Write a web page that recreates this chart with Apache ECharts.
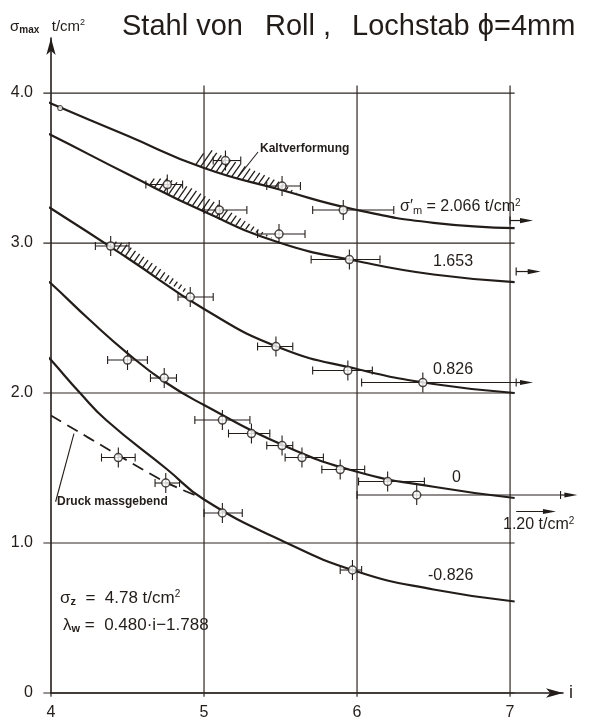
<!DOCTYPE html>
<html><head><meta charset="utf-8">
<script src="https://cdn.jsdelivr.net/npm/echarts@6/dist/echarts.min.js"></script>
<style>html,body{margin:0;padding:0;background:#fff}#c{width:589px;height:722px}</style>
</head><body><div id="c"></div>
<script>
// ---------- data ----------
const xTicks = [4, 5, 6, 7];
const yTicks = [0, 1, 2, 3, 4];
const curveNames = ['2.066', '1.653', '0.826', '0', '-0.826'];
const curve2066 = [[3.96,3.95],[4,3.93],[4.5,3.715],[5,3.50],[5.5,3.355],[6,3.22],[6.5,3.135],[7.03,3.10]];
const curve1653 = [[3.97,3.73],[4,3.72],[4.5,3.46],[5,3.21],[5.5,3.00],[6,2.88],[6.5,2.79],[7.03,2.74]];
const curve0826 = [[3.96,3.25],[4,3.23],[4.5,2.90],[5,2.56],[5.5,2.30],[6,2.16],[6.5,2.06],[7.03,2.00]];
const curve0    = [[3.97,2.75],[4,2.73],[4.25,2.49],[4.5,2.265],[4.75,2.07],[5,1.92],[5.5,1.66],[6,1.475],[6.5,1.375],[7.03,1.30]];
const curveM0826= [[3.97,2.25],[4,2.22],[4.19,2.0],[4.36,1.82],[4.76,1.49],[5,1.29],[5.5,1.02],[6,0.81],[6.5,0.69],[7.03,0.61]];
const druckLine = [[4.0,1.85],[4.44,1.585],[4.75,1.405],[4.94,1.32]];
// observations: [i, sigma, i_low, i_high]
const obs2066  = [[5.14,3.55,5.06,5.24],[5.51,3.38,5.41,5.63],[5.91,3.22,5.71,6.24]];
const obs1653  = [[4.76,3.39,4.62,4.86],[5.10,3.22,5.00,5.28],[5.49,3.06,5.35,5.66],[5.95,2.89,5.70,6.15]];
const obs0826  = [[4.39,2.98,4.29,4.51],[4.91,2.64,4.83,5.06],[5.47,2.31,5.35,5.58],[5.94,2.15,5.71,6.10],[6.43,2.07,6.03,7.04]];
const obs0     = [[4.50,2.22,4.37,4.63],[4.74,2.10,4.65,4.82],[5.12,1.82,4.94,5.30],[5.31,1.73,5.16,5.43],[5.51,1.65,5.41,5.58],[5.64,1.57,5.53,5.78],[5.89,1.49,5.77,6.05],[6.20,1.41,6.01,6.44],[6.39,1.32,6.00,7.33]];
const obsDruck = [[4.44,1.57,4.33,4.55],[4.75,1.40,4.68,4.84]];
const obsM0826 = [[5.12,1.20,5.00,5.25],[5.97,0.82,5.89,6.03]];
const startMarks = [[4.06,3.90],[3.98,3.73]];
// arrows to the right: [i_start, i_end, sigma, startTick(1/0)]
const arrowsRight = [[7.0,7.15,3.15,1],[7.04,7.20,2.81,1],[7.04,7.15,2.07,0],[7.33,7.44,1.32,0],[7.04,7.30,1.21,0]];
// hatched "Kaltverformung" zones (closed outlines)
const hatch2066 = [[4.93,3.53],[5.03,3.63],[5.14,3.57],[5.51,3.40],[5.61,3.33],[5.5,3.355],[5.25,3.42],[5.0,3.50]];
const hatch1653 = [[4.62,3.40],[4.66,3.43],[4.76,3.43],[4.93,3.36],[5.28,3.14],[5.45,3.03],[5.25,3.10],[5.0,3.21],[4.8,3.31]];
const hatch0826 = [[4.38,3.00],[4.40,3.015],[4.49,2.995],[4.87,2.71],[4.91,2.65],[4.7,2.77],[4.5,2.90]];
const leaderKalt  = [[5.353,3.607],[5.224,3.442]];
const leaderDruck = [[4.15,1.73],[4.03,1.275]];

// ---------- styling ----------
const INK = '#231d1a';
const GRIDC = '#2e2622';
const FONT = '"Liberation Sans", Arial, sans-serif';

const allObs = [].concat(obs2066, obs1653, obs0826, obs0, obsDruck, obsM0826);
const hatchPolys = [hatch2066, hatch1653, hatch0826];

function hatchLines(poly, spacing, angleDeg) {
  const th = angleDeg * Math.PI / 180;
  const d = [Math.cos(th), -Math.sin(th)];
  const n = [Math.sin(th), Math.cos(th)];
  let mn = Infinity, mx = -Infinity;
  poly.forEach(p => { const v = n[0]*p[0] + n[1]*p[1]; mn = Math.min(mn, v); mx = Math.max(mx, v); });
  const out = [];
  for (let c = Math.ceil(mn / spacing) * spacing; c <= mx; c += spacing) {
    const pts = [];
    for (let k = 0; k < poly.length; k++) {
      const a = poly[k], b = poly[(k + 1) % poly.length];
      const va = n[0]*a[0] + n[1]*a[1] - c, vb = n[0]*b[0] + n[1]*b[1] - c;
      if ((va < 0) !== (vb < 0)) {
        const t = va / (va - vb);
        pts.push([a[0] + t*(b[0]-a[0]), a[1] + t*(b[1]-a[1])]);
      }
    }
    pts.sort((p, q) => (d[0]*p[0] + d[1]*p[1]) - (d[0]*q[0] + d[1]*q[1]));
    for (let k = 0; k + 1 < pts.length; k += 2) out.push([pts[k], pts[k+1]]);
  }
  return out;
}

function curveSeries(data, extra) {
  return Object.assign({
    type: 'line', data: data, showSymbol: false, smooth: 0.5,
    clip: false, silent: true, z: 3,
    lineStyle: { color: INK, width: 2.2 }
  }, extra || {});
}

const chart = echarts.init(document.getElementById('c'), null, { renderer: 'canvas' });
chart.setOption({
  backgroundColor: '#ffffff',
  animation: false,
  textStyle: { fontFamily: FONT, color: INK },
  grid: { left: 51, right: 26, top: 38, bottom: 29, containLabel: false },
  xAxis: {
    type: 'value', min: 4, max: 7.346, interval: 1,
    axisLine: { show: true, lineStyle: { color: INK, width: 1.6 }, symbol: ['none', 'arrow'], symbolSize: [7, 17] },
    axisTick: { show: false },
    splitLine: { show: false },
    axisLabel: { color: INK, fontSize: 16, margin: 12, fontFamily: FONT,
      formatter: v => (Number.isInteger(v) && xTicks.indexOf(v) >= 0) ? String(v) : '' },
    name: 'i', nameLocation: 'end', nameGap: 6,
    nameTextStyle: { color: INK, fontSize: 18, fontFamily: FONT, verticalAlign: 'middle' }
  },
  yAxis: {
    type: 'value', min: 0, max: 4.367, interval: 1,
    axisLine: { show: true, lineStyle: { color: INK, width: 1.6 }, symbol: ['none', 'arrow'], symbolSize: [7, 17] },
    axisTick: { show: false },
    splitLine: { show: false },
    axisLabel: { color: INK, fontSize: 16, margin: 18, fontFamily: FONT,
      formatter: v => (Number.isInteger(v) && yTicks.indexOf(v) >= 0) ? (v === 0 ? '0' : v.toFixed(1)) : '' }
  },
  series: [
    { type: 'custom', clip: false, silent: true, z: 1,
      data: xTicks.map(x => [x, 0]),
      renderItem: function (params, api) {
        const x = api.value(0);
        const a = api.coord([x, -0.025]), b = api.coord([x, x === xTicks[0] ? 0 : 4.05]);
        return { type: 'line', shape: { x1: a[0], y1: a[1], x2: b[0], y2: b[1] }, style: { stroke: GRIDC, lineWidth: 1.2 } };
      } },
    { type: 'custom', clip: false, silent: true, z: 1,
      data: yTicks.map(y => [4, y]),
      renderItem: function (params, api) {
        const y = api.value(1);
        const a = api.coord([3.95, y]), b = api.coord([7.03, y]);
        return { type: 'line', shape: { x1: a[0], y1: a[1], x2: b[0], y2: b[1] }, style: { stroke: GRIDC, lineWidth: 1.2 } };
      } },
    { type: 'line', data: [], clip: false, silent: true, z: 2,
      markLine: { silent: true, symbol: 'none', label: { show: false },
        lineStyle: { color: INK, width: 1.1, type: 'solid' },
        data: [[{coord: leaderKalt[0]}, {coord: leaderKalt[1]}], [{coord: leaderDruck[0]}, {coord: leaderDruck[1]}]] } },
    curveSeries(curve2066, { name: curveNames[0] }),
    curveSeries(curve1653, { name: curveNames[1] }),
    curveSeries(curve0826, { name: curveNames[2] }),
    curveSeries(curve0, { name: curveNames[3] }),
    curveSeries(curveM0826, { name: curveNames[4] }),
    curveSeries(druckLine, { name: 'Druck', smooth: 0.3, lineStyle: { color: INK, width: 1.8, type: [12, 7] } }),
    { type: 'custom', clip: false, silent: true, z: 2,
      data: hatchPolys.map(p => p[0]),
      renderItem: function (params, api) {
        const poly = hatchPolys[params.dataIndex].map(p => api.coord(p));
        const segs = hatchLines(poly, 5.2, 55);
        return { type: 'group', children: segs.map(s => ({
          type: 'line', shape: { x1: s[0][0], y1: s[0][1], x2: s[1][0], y2: s[1][1] },
          style: { stroke: INK, lineWidth: 1.3 } })) };
      } },
    { type: 'custom', clip: false, silent: true, z: 4,
      data: allObs,
      renderItem: function (params, api) {
        const x = api.value(0), y = api.value(1), lo = api.value(2), hi = api.value(3);
        const c = api.coord([x, y]), a = api.coord([lo, y]), b = api.coord([hi, y]);
        const st = { stroke: INK, lineWidth: 1.1 };
        return { type: 'group', children: [
          { type: 'line', shape: { x1: a[0], y1: a[1], x2: b[0], y2: b[1] }, style: st },
          { type: 'line', shape: { x1: a[0], y1: a[1]-4, x2: a[0], y2: a[1]+4 }, style: st },
          { type: 'line', shape: { x1: b[0], y1: b[1]-4, x2: b[0], y2: b[1]+4 }, style: st },
          { type: 'line', shape: { x1: c[0], y1: c[1]-10, x2: c[0], y2: c[1]+10 }, style: st }
        ] };
      } },
    { type: 'custom', clip: false, silent: true, z: 4,
      data: arrowsRight,
      renderItem: function (params, api) {
        const x0 = api.value(0), x1 = api.value(1), y = api.value(2), tk = api.value(3);
        const a = api.coord([x0, y]), b = api.coord([x1, y]);
        const st = { stroke: INK, lineWidth: 1.2 };
        const ch = [
          { type: 'line', shape: { x1: a[0], y1: a[1], x2: b[0]-6, y2: b[1] }, style: st },
          { type: 'polygon', shape: { points: [[b[0], b[1]], [b[0]-13, b[1]-2.6], [b[0]-13, b[1]+2.6]] }, style: { fill: INK } }
        ];
        if (tk) ch.push({ type: 'line', shape: { x1: a[0], y1: a[1]-4, x2: a[0], y2: a[1]+4 }, style: st });
        return { type: 'group', children: ch };
      } },
    { type: 'scatter', data: allObs.map(o => [o[0], o[1]]), symbol: 'circle', symbolSize: 8, z: 6, silent: true,
      itemStyle: { color: '#ffffff', borderColor: INK, borderWidth: 1.5 } },
    { type: 'scatter', data: startMarks, symbol: 'circle', symbolSize: 5, z: 6, silent: true,
      itemStyle: { color: '#ffffff', borderColor: INK, borderWidth: 1.1 } }
  ],
  graphic: [
    { type: 'text', left: 10, top: 18, style: { rich: {
        a: { fontSize: 15, fontFamily: FONT, fill: INK },
        s: { fontSize: 10, fontFamily: FONT, fill: INK, fontWeight: 'bold', verticalAlign: 'bottom', padding: [6,0,0,0] },
        p: { fontSize: 9, fontFamily: FONT, fill: INK, verticalAlign: 'top', padding: [0,0,8,0] } },
      text: '{a|σ}{s|max}{a|   t/cm}{p|2}' } },
    { type: 'text', left: 122, top: 12, style: { text: 'Stahl von', fontSize: 29, fontFamily: FONT, fill: INK } },
    { type: 'text', left: 265, top: 12, style: { text: 'Roll ,', fontSize: 29, fontFamily: FONT, fill: INK } },
    { type: 'text', left: 352, top: 12, style: { text: 'Lochstab ϕ=4mm', fontSize: 29, fontFamily: FONT, fill: INK } },
    { type: 'text', left: 400, top: 198, style: { rich: {
        a: { fontSize: 16, fontFamily: FONT, fill: INK },
        s: { fontSize: 11, fontFamily: FONT, fill: INK, verticalAlign: 'bottom', padding: [6,0,0,0] },
        p: { fontSize: 10, fontFamily: FONT, fill: INK, verticalAlign: 'top', padding: [0,0,8,0] } },
      text: '{a|σ′}{s|m}{a| = 2.066 t/cm}{p|2}' } },
    { type: 'text', left: 433, top: 254, style: { text: '1.653', fontSize: 16, fontFamily: FONT, fill: INK } },
    { type: 'text', left: 433, top: 362, style: { text: '0.826', fontSize: 16, fontFamily: FONT, fill: INK } },
    { type: 'text', left: 452, top: 470, style: { text: '0', fontSize: 16, fontFamily: FONT, fill: INK } },
    { type: 'text', left: 428, top: 568, style: { text: '-0.826', fontSize: 16, fontFamily: FONT, fill: INK } },
    { type: 'text', left: 503, top: 516, style: { rich: {
        a: { fontSize: 16, fontFamily: FONT, fill: INK },
        p: { fontSize: 10, fontFamily: FONT, fill: INK, verticalAlign: 'top', padding: [0,0,8,0] } },
      text: '{a|1.20 t/cm}{p|2}' } },
    { type: 'text', left: 260, top: 143, style: { text: 'Kaltverformung', fontSize: 12, fontWeight: 'bold', fontFamily: FONT, fill: INK } },
    { type: 'text', left: 57, top: 496, style: { text: 'Druck massgebend', fontSize: 12, fontWeight: 'bold', fontFamily: FONT, fill: INK } },
    { type: 'text', left: 60, top: 589, style: { rich: {
        a: { fontSize: 17, fontFamily: FONT, fill: INK },
        s: { fontSize: 11, fontFamily: FONT, fill: INK, fontWeight: 'bold', verticalAlign: 'bottom', padding: [6,0,0,0] },
        p: { fontSize: 10, fontFamily: FONT, fill: INK, verticalAlign: 'top', padding: [0,0,8,0] } },
      text: '{a|σ}{s|z}{a|  =  4.78 t/cm}{p|2}' } },
    { type: 'text', left: 63, top: 617, style: { rich: {
        a: { fontSize: 17, fontFamily: FONT, fill: INK },
        s: { fontSize: 11, fontFamily: FONT, fill: INK, fontWeight: 'bold', verticalAlign: 'bottom', padding: [6,0,0,0] } },
      text: '{a|λ}{s|w}{a| =  0.480·i−1.788}' } }
  ]
});
</script></body></html>
